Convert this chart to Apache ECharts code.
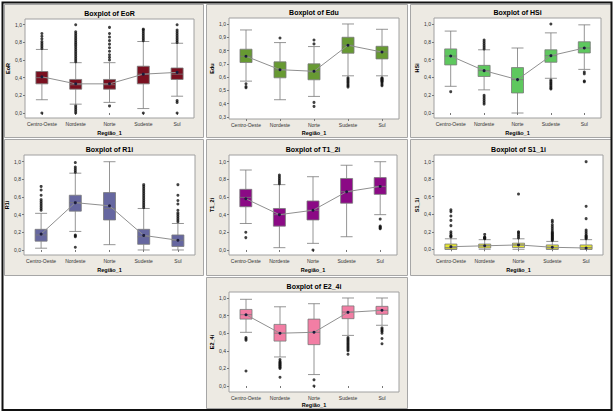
<!DOCTYPE html>
<html><head><meta charset="utf-8">
<script src="https://cdn.jsdelivr.net/npm/echarts@6/dist/echarts.min.js"></script>
<style>html,body{margin:0;padding:0;background:#fff}#c{width:615px;height:412px}</style>
</head><body><div id="c"></div><script>
// ---------- data ----------
const regions = ['Centro-Oeste','Nordeste','Norte','Sudeste','Sul'];
const xAxisTitle = 'Região_1';
const tickFull = [0,0.2,0.4,0.6,0.8,1.0];
const tickEdu = [0.3,0.4,0.5,0.6,0.7,0.8,0.9,1.0];

// stats per region: [lower whisker, Q1, median, Q3, upper whisker]
const eorStats = [[0.15,0.33,0.40,0.47,0.72],[0.10,0.27,0.32,0.38,0.57],[0.12,0.27,0.32,0.38,0.57],[0.05,0.33,0.44,0.53,0.81],[0.19,0.38,0.44,0.51,0.79]];
const eorMean = [0.41,0.33,0.33,0.44,0.46];
const eorOut = [
  [0.73,0.75,0.77,0.79,0.81,0.84,0.87,0.90,0.0],
  [0.58,0.60,0.62,0.64,0.66,0.68,0.70,0.72,0.74,0.76,0.78,0.80,0.82,0.84,0.86,0.88,0.90,0.92,1.0,0.0,0.02,0.04,0.06,0.08],
  [0.60,0.63,0.66,0.70,0.74,0.78,0.82,0.86,0.90,0.97,0.08],
  [0.82,0.84,0.86,0.88,0.90,0.92,0.94,0.95,0.0],
  [0.80,0.82,0.84,0.86,0.88,0.90,0.92,0.94,1.0,0.14,0.12,0.0]];

const eduStats = [[0.57,0.71,0.757,0.81,0.955],[0.43,0.595,0.655,0.715,0.86],[0.455,0.58,0.64,0.70,0.83],[0.61,0.78,0.84,0.90,1.0],[0.61,0.737,0.789,0.832,0.96]];
const eduMean = [0.757,0.656,0.644,0.84,0.789];
const eduOut = [
  [0.55,0.53,0.52],
  [0.895],
  [0.85,0.88,0.41,0.38],
  [0.595,0.585,0.575,0.565,0.555,0.545,0.535,0.525],
  [0.595,0.59,0.585,0.58,0.575,0.57,0.565,0.555,0.545,0.535]];

const hsiStats = [[0.30,0.54,0.64,0.72,0.92],[0.26,0.41,0.476,0.535,0.71],[0.0,0.225,0.375,0.51,0.73],[0.39,0.57,0.644,0.71,0.90],[0.49,0.674,0.73,0.80,0.99]];
const hsiMean = [0.64,0.476,0.375,0.644,0.73];
const hsiOut = [
  [0.24],
  [0.72,0.74,0.76,0.78,0.80,0.82,0.20,0.18,0.16,0.14,0.12,0.10],
  [],
  [1.0,0.37,0.355,0.34,0.325,0.31,0.295,0.28,0.27],
  [0.46,0.44,0.36,0.35]];

const r1iStats = [[0.02,0.10,0.17,0.234,0.415],[0.21,0.44,0.536,0.62,0.87],[0.06,0.34,0.47,0.65,1.0],[0.0,0.064,0.15,0.234,0.47],[0.0,0.04,0.11,0.17,0.30]];
const r1iMean = [0.18,0.536,0.50,0.165,0.11];
const r1iOut = [
  [0.45,0.47,0.49,0.51,0.53,0.55,0.57,0.62,0.68,0.72],
  [0.88,0.90,0.92,0.94,0.99,0.17,0.16,0.15,0.03],
  [],
  [0.48,0.50,0.52,0.54,0.56,0.58,0.60,0.62,0.64,0.66,0.68,0.70,0.72,0.74],
  [0.32,0.34,0.36,0.38,0.40,0.42,0.45,0.52,0.56,0.62,0.74]];

const t12Stats = [[0.30,0.49,0.596,0.687,0.906],[0.026,0.27,0.40,0.47,0.74],[0.075,0.34,0.45,0.555,0.83],[0.15,0.53,0.66,0.81,0.96],[0.40,0.63,0.72,0.82,1.0]];
const t12Mean = [0.58,0.40,0.45,0.66,0.72];
const t12Out = [
  [0.20,0.14],
  [0.75,0.77,0.79,0.81,0.83,0.85],
  [0.0],
  [],
  [0.35,0.27,0.26,0.25,0.24]];

const s11Stats = [[0.0,0.0,0.02,0.06,0.12],[0.0,0.015,0.04,0.06,0.11],[0.0,0.02,0.05,0.07,0.12],[0.0,0.0,0.02,0.05,0.09],[0.0,0.0,0.02,0.05,0.11]];
const s11Mean = [0.03,0.04,0.05,0.023,0.015];
const s11Out = [
  [0.14,0.15,0.16,0.18,0.20,0.27,0.33,0.38,0.43,0.45],
  [0.12,0.125,0.13,0.135,0.14,0.17],
  [0.13,0.15,0.17,0.19,0.20,0.63],
  [0.10,0.11,0.12,0.13,0.14,0.15,0.16,0.17,0.18,0.19,0.20,0.22,0.24,0.26,0.28,0.31,0.33],
  [0.12,0.13,0.14,0.15,0.16,0.18,0.20,0.22,0.35,0.49,1.0]];

const e24Stats = [[0.61,0.76,0.81,0.87,0.985],[0.33,0.51,0.60,0.70,0.90],[0.13,0.47,0.61,0.76,0.935],[0.575,0.765,0.84,0.91,1.0],[0.69,0.815,0.86,0.905,1.0]];
const e24Mean = [0.81,0.60,0.61,0.837,0.86];
const e24Out = [
  [0.55,0.535,0.52,0.17],
  [0.30,0.28,0.27,0.26,0.25,0.24,0.23,0.22,0.21,0.20,0.10],
  [0.07,0.0],
  [0.55,0.535,0.52,0.505,0.49,0.475,0.46,0.445,0.43,0.415,0.40,0.36],
  [0.66,0.645,0.63,0.62,0.60,0.54,0.48]];

// ---------- layout / style ----------
const FONT = 'Liberation Sans';
const panels = [
  {name:'EoR',  stats:eorStats, mean:eorMean, out:eorOut, ticks:tickFull, color:'#7a1020',
   box:[4,4,199,133], grid:[25,19,169,99], y:[-0.057,1.065], gap:12},
  {name:'Edu',  stats:eduStats, mean:eduMean, out:eduOut, ticks:tickEdu, color:'#679a32',
   box:[206,4,201,133], grid:[229,18,170,101], y:[0.285,1.045], gap:11},
  {name:'HSi',  stats:hsiStats, mean:hsiMean, out:hsiOut, ticks:tickFull, color:'#5ec85e',
   box:[410,4,201,133], grid:[434,18,167,100], y:[-0.056,1.067], gap:12},
  {name:'R1i',  stats:r1iStats, mean:r1iMean, out:r1iOut, ticks:tickFull, color:'#6667a0',
   box:[4,139,199,136], grid:[24,155,171,100], y:[-0.057,1.076], gap:12},
  {name:'T1_2i',stats:t12Stats, mean:t12Mean, out:t12Out, ticks:tickFull, color:'#8b0a85',
   box:[206,139,201,136], grid:[229,155,168,100], y:[-0.057,1.076], gap:12},
  {name:'S1_1i',stats:s11Stats, mean:s11Mean, out:s11Out, ticks:tickFull, color:'#e6e630',
   box:[410,139,201,136], grid:[434,155,169,100], y:[-0.065,1.076], gap:12},
  {name:'E2_4i',stats:e24Stats, mean:e24Mean, out:e24Out, ticks:tickFull, color:'#f27ea4',
   box:[206,277,201,131], grid:[229,292,170,100], y:[-0.068,1.068], gap:10}
];

const fmt = v => v.toFixed(1).replace('.', ',');
const grids = [], xAxes = [], yAxes = [], series = [], graphics = [];

panels.forEach((p, i) => {
  const [gl, gt, gw, gh] = p.grid;
  const [bx, by, bw, bh] = p.box;
  graphics.push({type:'rect', z:-10, shape:{x:bx+0.5, y:by+0.5, width:bw, height:bh},
    style:{fill:'#edeae3', stroke:'#a6a6a6', lineWidth:1}});
  graphics.push({type:'text', z:10, style:{text:'Boxplot of ' + p.name, x: gl + gw/2, y: gt - 6,
    align:'center', verticalAlign:'middle', font:'bold 7px ' + FONT, fill:'#000'}});
  grids.push({left:gl, top:gt, width:gw, height:gh, show:true, backgroundColor:'#fff',
    borderColor:'#a0a0a0', borderWidth:1});
  xAxes.push({type:'category', gridIndex:i, data:regions, boundaryGap:true,
    name:xAxisTitle, nameLocation:'middle', nameGap:p.gap,
    nameTextStyle:{fontSize:5.5, fontWeight:'bold', fontFamily:FONT, color:'#000'},
    axisLine:{show:false}, axisTick:{show:true, alignWithLabel:true, length:2, lineStyle:{color:'#777'}},
    axisLabel:{fontSize:5, fontFamily:FONT, color:'#333', margin:3, interval:0},
    splitLine:{show:false}});
  yAxes.push({type:'value', gridIndex:i, min:p.y[0], max:p.y[1],
    name:p.name, nameLocation:'middle', nameGap:13, nameRotate:90,
    nameTextStyle:{fontSize:5.5, fontWeight:'bold', fontFamily:FONT, color:'#000'},
    axisLine:{show:false},
    axisTick:{show:true, length:2, customValues:p.ticks, lineStyle:{color:'#777'}},
    axisLabel:{fontSize:5, fontFamily:FONT, color:'#333', margin:3, customValues:p.ticks, formatter:fmt},
    splitLine:{show:false}});
  series.push({type:'boxplot', xAxisIndex:i, yAxisIndex:i, data:p.stats, boxWidth:[12,12],
    itemStyle:{color:p.color, borderColor:'#7a7a7a', borderWidth:0.8}, z:3});
  const outPts = [];
  p.out.forEach((arr, c) => arr.forEach(v => outPts.push([c, v])));
  series.push({type:'scatter', xAxisIndex:i, yAxisIndex:i, data:outPts, symbol:'circle', symbolSize:3,
    itemStyle:{color:'#111'}, z:4});
  series.push({type:'line', xAxisIndex:i, yAxisIndex:i, data:p.mean, symbol:'circle', symbolSize:3,
    itemStyle:{color:'#1c1c3c'}, lineStyle:{color:'#8f8f8f', width:1}, z:5});
});

// outer frame
graphics.push({type:'rect', z:20, shape:{x:2.5, y:2.5, width:609, height:407.5},
  style:{fill:'none', stroke:'#111', lineWidth:2}});

const chart = echarts.init(document.getElementById('c'), null, {renderer:'svg'});
chart.setOption({animation:false, backgroundColor:'#fff', grid:grids, xAxis:xAxes, yAxis:yAxes,
  series:series, graphic:graphics});
</script></body></html>
